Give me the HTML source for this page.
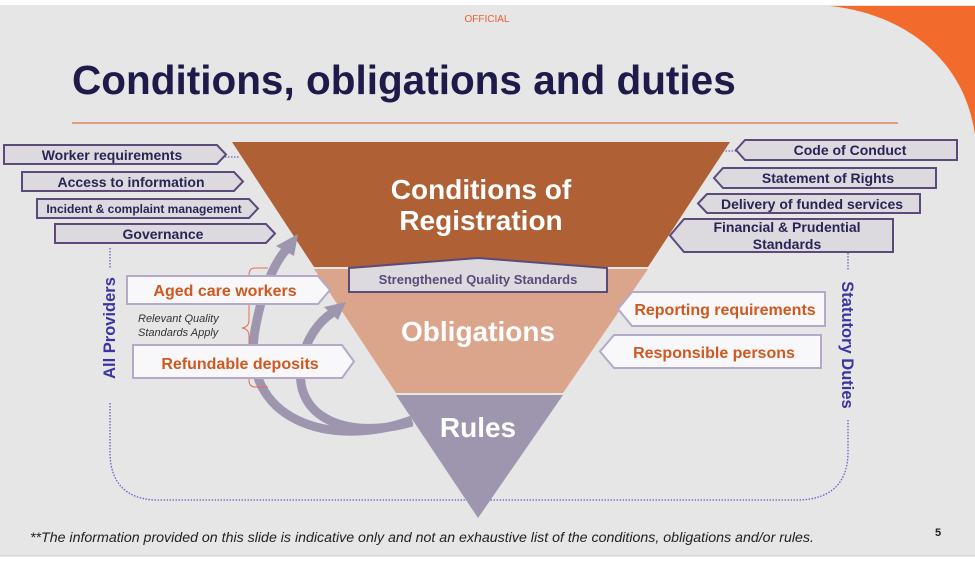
<!DOCTYPE html>
<html><head><meta charset="utf-8"><style>
html,body{margin:0;padding:0;width:975px;height:564px;overflow:hidden;background:#fff}
svg text{font-family:"Liberation Sans",Arial,sans-serif}
</style></head><body>
<svg width="975" height="564" viewBox="0 0 975 564" xmlns="http://www.w3.org/2000/svg">
<rect x="0" y="5" width="975" height="551" fill="#e6e6e6"/>
<line x1="0" y1="556" x2="975" y2="556" stroke="#cfcfcf"/>
<path d="M830,6 L975,6 L975,135 C965,60 905,14 830,6 Z" fill="#f26b2c"/>
<text x="487" y="22" font-size="10" fill="#e8603a" text-anchor="middle">OFFICIAL</text>
<text x="72" y="94" font-size="40.5" font-weight="bold" fill="#1e1a4a">Conditions, obligations and duties</text>
<line x1="72" y1="123" x2="898" y2="123" stroke="#e07040" stroke-width="1.2"/>

<g fill="none" stroke="#6a5fc0" stroke-width="1.3" stroke-dasharray="1.5,1.5">
<path d="M110,403 L110,455 Q112,498 155,500 L800,500 Q846,498 848,455 L848,420"/>
<path d="M110,248 L110,268"/><path d="M848,250 L848,270"/>
<path d="M225,157 L240,157"/><path d="M736,151 L720,151"/>
</g>

<polygon points="232,142 730,142 648,267 314,267" fill="#b06035"/>
<polygon points="314,269 648,269 563,393 396,393" fill="#dba58b"/>
<polygon points="396,395 563,395 478,518" fill="#9e96ae"/>
<text x="481" y="199" font-size="28" font-weight="bold" fill="#fff" text-anchor="middle">Conditions of</text>
<text x="481" y="230" font-size="28" font-weight="bold" fill="#fff" text-anchor="middle">Registration</text>
<text x="478" y="341" font-size="28" font-weight="bold" fill="#fff" text-anchor="middle">Obligations</text>
<text x="478" y="437" font-size="28" font-weight="bold" fill="#fff" text-anchor="middle">Rules</text>

<g fill="none" stroke="#9e96ae" stroke-width="9">
<path d="M412,420 C330,450 240,420 255,330 C262,290 275,262 286,250"/>
<path d="M412,422 C350,440 290,420 302,360 C306,340 318,322 332,313"/>
</g>
<polygon points="298,234 276,246 294,256" fill="#9e96ae"/>
<polygon points="346,302 324,307 338,320" fill="#9e96ae"/>

<path d="M268,268 L255,268 Q249,268 249,275 L249,320 Q249,327 242,328 Q249,329 249,336 L249,380 Q249,387 255,387 L268,387" fill="none" stroke="#e07050" stroke-width="1"/>
<text x="138" y="322" font-size="11" font-style="italic" fill="#333">Relevant Quality</text>
<text x="138" y="336" font-size="11" font-style="italic" fill="#333">Standards Apply</text>

<g fill="#dcdadf" stroke="#5b4a7a" stroke-width="2">
<polygon points="4,145 217,145 226,154.5 217,164 4,164"/>
<polygon points="22,172 234,172 243,181.5 234,191 22,191"/>
<polygon points="37,199 249,199 258,208.5 249,218 37,218"/>
<polygon points="55,224 266,224 275,233.5 266,243 55,243"/>
<polygon points="736,150 745,140 957,140 957,160 745,160"/>
<polygon points="714,178 723,168 936,168 936,188 723,188"/>
<polygon points="698,203.5 707,194 920,194 920,213 707,213"/>
<polygon points="670,235.5 684,219 893,219 893,252 684,252"/>
<polygon points="349,268 478,258 607,268 607,292 349,292"/>
</g>
<g font-size="14" font-weight="bold" fill="#2a2455" text-anchor="middle">
<text x="112" y="160">Worker requirements</text>
<text x="131" y="187">Access to information</text>
<text x="144" y="213" font-size="12">Incident &amp; complaint management</text>
<text x="163" y="239">Governance</text>
<text x="850" y="155">Code of Conduct</text>
<text x="828" y="183">Statement of Rights</text>
<text x="812" y="209">Delivery of funded services</text>
<text x="787" y="232">Financial &amp; Prudential</text>
<text x="787" y="249">Standards</text>
<text x="478" y="284" font-size="13" fill="#5b4a7a">Strengthened Quality Standards</text>
</g>

<g fill="#f8f7fa" stroke="#b5a8c8" stroke-width="2">
<polygon points="127,276 318,276 330,290 318,304 127,304"/>
<polygon points="133,345 342,345 354,361.5 342,378 133,378"/>
<polygon points="618,309 632,292 825,292 825,326 632,326"/>
<polygon points="600,351.5 614,335 821,335 821,368 614,368"/>
</g>
<g font-size="16" font-weight="bold" fill="#d0581e" text-anchor="middle">
<text x="225" y="296">Aged care workers</text>
<text x="240" y="369">Refundable deposits</text>
<text x="725" y="315">Reporting requirements</text>
<text x="714" y="358">Responsible persons</text>
</g>

<text transform="translate(115,328) rotate(-90)" font-size="16.5" font-weight="bold" fill="#3c34a0" text-anchor="middle">All Providers</text>
<text transform="translate(842,345) rotate(90)" font-size="16.5" font-weight="bold" fill="#3c34a0" text-anchor="middle">Statutory Duties</text>

<text x="30" y="542" font-size="14.2" font-style="italic" fill="#222">**The information provided on this slide is indicative only and not an exhaustive list of the conditions, obligations and/or rules.</text>
<text x="938" y="536" font-size="11" font-weight="bold" fill="#222" text-anchor="middle">5</text>
</svg>
</body></html>
